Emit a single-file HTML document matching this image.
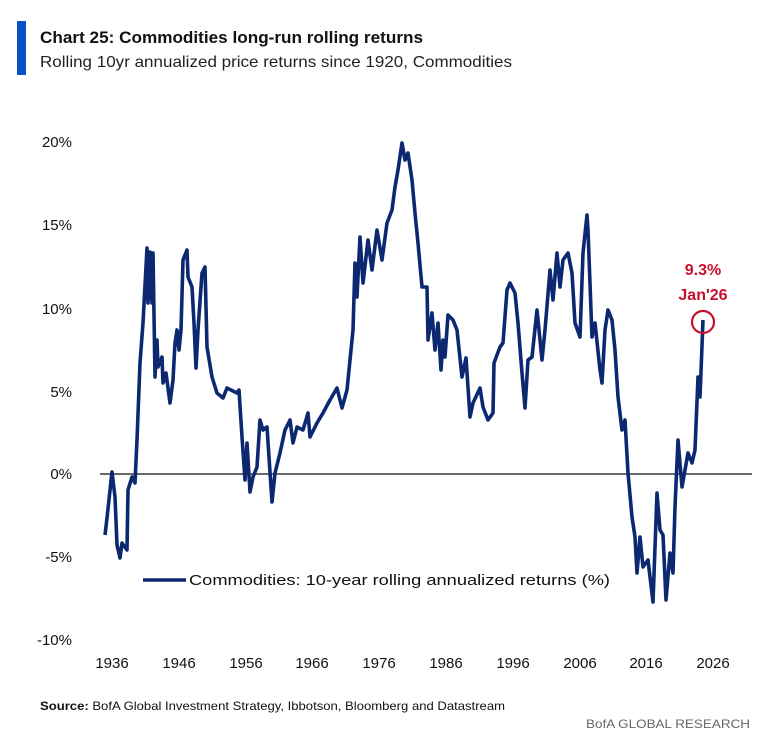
<!DOCTYPE html>
<html><head><meta charset="utf-8"><style>
html,body{margin:0;padding:0;background:#fff;}
svg{display:block;font-family:"Liberation Sans",sans-serif;}
</style></head><body>
<svg width="778" height="756" viewBox="0 0 778 756" xmlns="http://www.w3.org/2000/svg">
<rect width="778" height="756" fill="#fff"/>
<rect x="17" y="21" width="9" height="54" fill="#0a52c8"/>
<text x="40" y="43" font-size="17" font-weight="bold" fill="#111" textLength="383" lengthAdjust="spacingAndGlyphs">Chart 25: Commodities long-run rolling returns</text>
<text x="40" y="67" font-size="16" fill="#222" textLength="472" lengthAdjust="spacingAndGlyphs">Rolling 10yr annualized price returns since 1920, Commodities</text>
<g font-size="15" fill="#111" text-anchor="end">
<text x="72" y="147">20%</text>
<text x="72" y="230">15%</text>
<text x="72" y="314">10%</text>
<text x="72" y="397">5%</text>
<text x="72" y="479">0%</text>
<text x="72" y="562">-5%</text>
<text x="72" y="645">-10%</text>
</g>
<g font-size="15" fill="#111" text-anchor="middle">
<text x="112" y="668">1936</text>
<text x="179" y="668">1946</text>
<text x="246" y="668">1956</text>
<text x="312" y="668">1966</text>
<text x="379" y="668">1976</text>
<text x="446" y="668">1986</text>
<text x="513" y="668">1996</text>
<text x="580" y="668">2006</text>
<text x="646" y="668">2016</text>
<text x="713" y="668">2026</text>
</g>
<line x1="100" y1="474" x2="752" y2="474" stroke="#111" stroke-width="1.2"/>
<polyline fill="none" stroke="#0b2870" stroke-width="3.6" stroke-linejoin="round" points="105,535 107,518 112,472 115,497 117,545 120,558 122,543 127,550 128,490 132,477 135,483 137,440 140,363 143,323 147,248 148,303 150,252 152,303 153,253 155,377 157,340 158,367 162,357 163,383 166,373 170,403 173,380 175,343 177,330 179,350 181,330 183,260 187,250 188,277 192,287 194,323 196,368 198,330 202,273 205,267 207,347 212,377 217,393 223,398 227,388 237,393 239,390 242,437 245,480 247,443 250,492 253,477 257,467 260,420 263,430 267,427 272,502 275,473 280,453 285,430 290,420 293,443 297,427 303,430 308,413 310,437 317,423 323,413 330,400 337,388 342,408 347,390 350,360 353,330 355,263 357,297 360,237 363,283 368,240 372,270 377,230 382,260 387,223 392,210 395,187 398,170 402,143 405,160 408,153 412,180 415,213 418,243 422,287 427,287 428,340 432,313 435,350 438,323 441,370 443,340 445,357 448,315 453,320 457,330 462,377 466,358 470,417 473,403 480,388 483,407 488,420 493,413 494,363 500,347 503,343 507,290 510,283 515,293 518,323 522,373 525,408 528,360 532,357 537,310 542,360 545,330 550,270 553,300 557,253 560,287 563,260 568,253 572,273 575,323 580,337 583,253 587,215 588,230 592,337 595,323 600,370 602,383 605,330 608,310 612,320 615,350 618,397 622,430 625,420 628,473 632,517 635,537 637,573 640,537 643,567 648,560 653,602 657,493 660,530 663,535 666,600 670,553 673,573 675,507 678,440 682,487 688,453 692,463 695,450 698,377 700,397 703,320"/>
<circle cx="703" cy="322" r="11" fill="none" stroke="#c8102e" stroke-width="2.2"/>
<g font-size="16" font-weight="bold" fill="#c8102e" text-anchor="middle">
<text x="703" y="275">9.3%</text>
<text x="703" y="300">Jan'26</text>
</g>
<line x1="143" y1="580" x2="186" y2="580" stroke="#0b2870" stroke-width="3.6"/>
<text x="189" y="585" font-size="15" fill="#111" textLength="421" lengthAdjust="spacingAndGlyphs">Commodities: 10-year rolling annualized returns (%)</text>
<text x="40" y="710" font-size="12" fill="#111" textLength="465" lengthAdjust="spacingAndGlyphs"><tspan font-weight="bold">Source:</tspan> BofA Global Investment Strategy, Ibbotson, Bloomberg and Datastream</text>
<text x="750" y="728" font-size="12" fill="#666" text-anchor="end" textLength="164" lengthAdjust="spacingAndGlyphs">BofA GLOBAL RESEARCH</text>
</svg>
</body></html>
